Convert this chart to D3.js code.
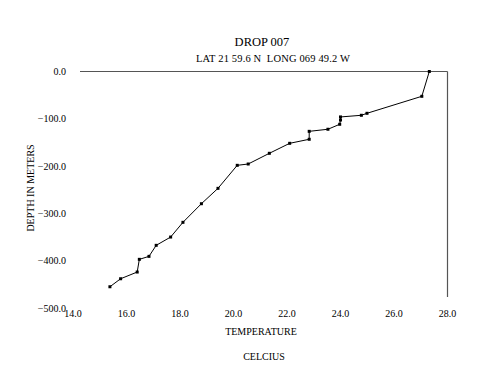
<!DOCTYPE html>
<html><head><meta charset="utf-8">
<script src="https://cdn.jsdelivr.net/npm/d3@7"></script>
<style>body{margin:0;background:#fff}svg{display:block}text{font-family:"Liberation Serif","Times New Roman",serif;fill:#000}</style>
</head><body><svg id="c" width="500" height="386"></svg>
<script>
const temperature = [27.32,27.04,24.99,24.78,24.0,24.0,23.97,23.53,22.83,22.83,22.1,21.34,20.55,20.14,19.42,18.8,18.11,17.65,17.11,16.84,16.48,16.40,15.78,15.38];
const depth = [0,-52.4,-88.3,-92.5,-96,-102.5,-111.5,-122,-126.4,-143.2,-151.7,-172.8,-195.4,-198.2,-246.8,-279.3,-318.6,-349.7,-367.2,-390.5,-396.8,-423.6,-437.8,-454.7];
const xTicks = [14,16,18,20,22,24,26,28];
const yTicks = [0,-100,-200,-300,-400,-500];
const title = "DROP 007";
const subtitle = "LAT 21 59.6 N  LONG 069 49.2 W";
const xTitle1 = "TEMPERATURE", xTitle2 = "CELCIUS", yTitle = "DEPTH IN METERS";

const svg = d3.select("#c");
const x = d3.scaleLinear().domain([14,28]).range([73,447.5]);
const y = d3.scaleLinear().domain([0,-500]).range([71.5,308.2]);

// frame lines
svg.append("line").attr("x1",80).attr("x2",x(28)).attr("y1",y(0)).attr("y2",y(0)).attr("stroke","#555").attr("stroke-width",1.2);
svg.append("line").attr("x1",x(28)).attr("x2",x(28)).attr("y1",y(0)).attr("y2",297).attr("stroke","#555").attr("stroke-width",1.2);

// y tick labels
svg.append("g").selectAll("text").data(yTicks).join("text")
  .attr("x",66).attr("y",d=>y(d)).attr("dy","0.35em").attr("text-anchor","end")
  .attr("font-size",10).text(d=>d3.format(".1f")(d));
// x tick labels
svg.append("g").selectAll("text").data(xTicks).join("text")
  .attr("x",d=>x(d)).attr("y",313).attr("dy","0.35em").attr("text-anchor","middle")
  .attr("font-size",10).text(d=>d3.format(".1f")(d));

const pts = temperature.map((t,i)=>[t,depth[i]]);
svg.append("path").datum(pts).attr("fill","none").attr("stroke","#000").attr("stroke-width",1)
  .attr("d", d3.line().x(d=>x(d[0])).y(d=>y(d[1])));
svg.append("g").selectAll("rect").data(pts).join("rect")
  .attr("x",d=>x(d[0])-1.5).attr("y",d=>y(d[1])-1.5).attr("width",3).attr("height",3).attr("fill","#000");

svg.append("text").attr("x",262).attr("y",42).attr("dy","0.35em").attr("text-anchor","middle").attr("font-size",12.5).text(title);
svg.append("text").attr("x",273).attr("y",58).attr("dy","0.35em").attr("text-anchor","middle").attr("font-size",10.5).attr("letter-spacing",0.15).style("white-space","pre").text(subtitle);
svg.append("text").attr("x",261).attr("y",331).attr("dy","0.35em").attr("text-anchor","middle").attr("font-size",10).text(xTitle1);
svg.append("text").attr("x",264).attr("y",356).attr("dy","0.35em").attr("text-anchor","middle").attr("font-size",10).text(xTitle2);
svg.append("text").attr("transform","translate(30,188) rotate(-90)").attr("dy","0.35em").attr("text-anchor","middle").attr("font-size",10).text(yTitle);
</script></body></html>
